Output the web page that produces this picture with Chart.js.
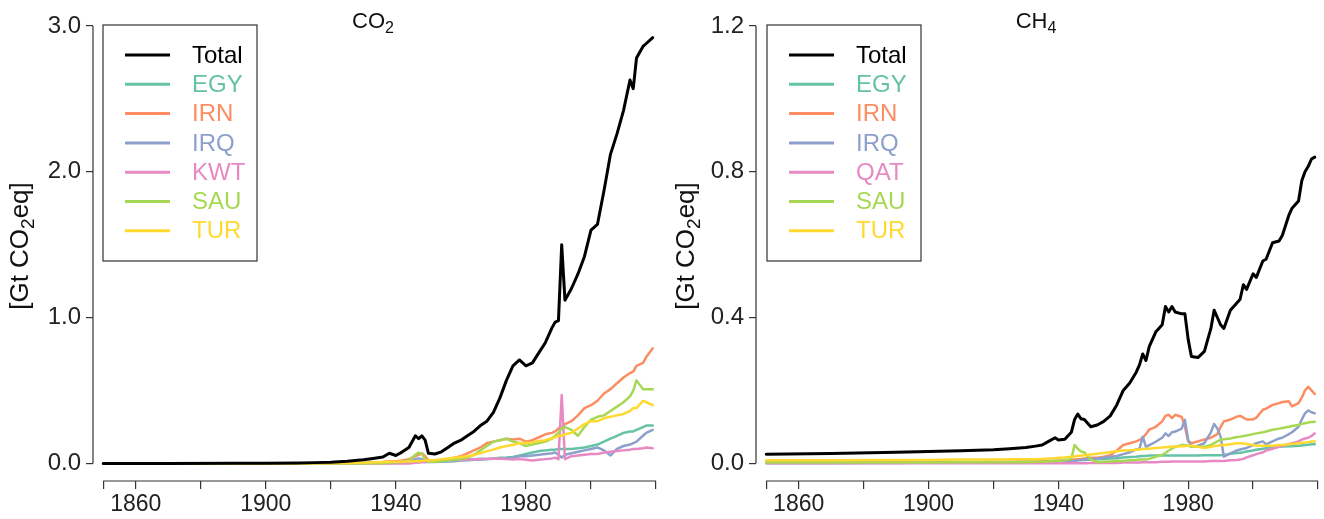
<!DOCTYPE html>
<html>
<head>
<meta charset="utf-8">
<script src="https://cdn.jsdelivr.net/npm/chart.js@4.4.1/dist/chart.umd.min.js"></script>
<style>
  html, body { margin: 0; padding: 0; background: #fff; }
  #wrap { position: relative; width: 1324px; height: 519px; }
  .panel { position: absolute; top: 0; width: 662px; height: 519px; }
</style>
</head>
<body>
<div id="wrap">
  <div class="panel" style="left:0"><canvas id="co2Chart" width="662" height="519"></canvas></div>
  <div class="panel" style="left:662px"><canvas id="ch4Chart" width="662" height="519"></canvas></div>
</div>
<script>
// axis ticks
const xTickYears = [1850, 1860, 1880, 1900, 1920, 1940, 1960, 1980, 2000, 2020];
const xLabelYears = [1860, 1900, 1940, 1980];
const co2TickValues = [0, 1, 2, 3];
const ch4TickValues = [0, 0.4, 0.8, 1.2];

// CO2 panel [Gt CO2eq]
const co2Years = [
  1850, 1870, 1890, 1900, 1910, 1915, 1920, 1925, 1930, 1933,
  1936, 1938, 1940, 1942, 1944, 1946, 1947, 1948, 1949, 1950,
  1952, 1954, 1956, 1958, 1960, 1962, 1964, 1966, 1968, 1970,
  1972, 1974, 1976, 1978, 1980, 1982, 1984, 1986, 1988, 1989,
  1990, 1991, 1992, 1994, 1996, 1998, 2000, 2002, 2004, 2006,
  2008, 2010, 2012, 2013, 2014, 2016, 2017, 2019
];
const co2Total = [
  0.000, 0.000, 0.001, 0.002, 0.004, 0.006, 0.008, 0.015, 0.025, 0.035,
  0.045, 0.070, 0.055, 0.080, 0.110, 0.190, 0.170, 0.190, 0.160, 0.070,
  0.065, 0.080, 0.110, 0.140, 0.160, 0.190, 0.220, 0.260, 0.290, 0.350,
  0.450, 0.570, 0.670, 0.710, 0.670, 0.690, 0.760, 0.830, 0.930, 0.970,
  0.980, 1.500, 1.120, 1.200, 1.300, 1.420, 1.600, 1.640, 1.870, 2.120,
  2.260, 2.420, 2.630, 2.570, 2.780, 2.860, 2.880, 2.920
];
const co2EGY = [
  0, 0, 0, 0, 0, 0.001, 0.001, 0.002, 0.004, 0.005,
  0.006, 0.007, 0.008, 0.008, 0.009, 0.010, 0.010, 0.011, 0.011, 0.012,
  0.014, 0.016, 0.018, 0.020, 0.025, 0.028, 0.030, 0.033, 0.030, 0.035,
  0.040, 0.042, 0.045, 0.055, 0.065, 0.075, 0.085, 0.090, 0.095, 0.095,
  0.100, 0.100, 0.100, 0.100, 0.105, 0.110, 0.120, 0.130, 0.150, 0.170,
  0.190, 0.210, 0.220, 0.220, 0.230, 0.250, 0.260, 0.260
];
const co2IRN = [
  0, 0, 0, 0, 0, 0, 0.001, 0.002, 0.003, 0.005,
  0.010, 0.015, 0.015, 0.020, 0.030, 0.050, 0.060, 0.070, 0.050, 0.020,
  0.020, 0.025, 0.030, 0.040, 0.050, 0.070, 0.090, 0.110, 0.140, 0.150,
  0.160, 0.170, 0.165, 0.170, 0.150, 0.160, 0.180, 0.200, 0.210, 0.220,
  0.240, 0.250, 0.270, 0.290, 0.330, 0.380, 0.400, 0.430, 0.480, 0.510,
  0.550, 0.590, 0.620, 0.630, 0.670, 0.690, 0.730, 0.790
];
const co2IRQ = [
  0, 0, 0, 0, 0, 0, 0, 0, 0.002, 0.003,
  0.004, 0.004, 0.005, 0.007, 0.010, 0.030, 0.035, 0.030, 0.020, 0.010,
  0.010, 0.012, 0.014, 0.015, 0.020, 0.022, 0.025, 0.028, 0.030, 0.032,
  0.033, 0.035, 0.040, 0.050, 0.050, 0.055, 0.060, 0.065, 0.070, 0.075,
  0.060, 0.040, 0.060, 0.070, 0.080, 0.090, 0.100, 0.110, 0.090, 0.055,
  0.100, 0.120, 0.130, 0.140, 0.150, 0.190, 0.210, 0.230
];
const co2KWT = [
  0, 0, 0, 0, 0, 0, 0, 0, 0, 0,
  0, 0, 0, 0, 0, 0.005, 0.007, 0.010, 0.011, 0.012,
  0.015, 0.020, 0.022, 0.025, 0.025, 0.028, 0.030, 0.030, 0.032, 0.033,
  0.034, 0.030, 0.028, 0.030, 0.025, 0.020, 0.025, 0.030, 0.035, 0.040,
  0.030, 0.470, 0.030, 0.050, 0.055, 0.060, 0.065, 0.065, 0.075, 0.080,
  0.085, 0.090, 0.095, 0.100, 0.100, 0.105, 0.110, 0.105
];
const co2SAU = [
  0, 0, 0, 0, 0, 0, 0, 0, 0, 0.001,
  0.002, 0.005, 0.008, 0.010, 0.020, 0.060, 0.075, 0.065, 0.030, 0.012,
  0.012, 0.015, 0.020, 0.025, 0.030, 0.040, 0.060, 0.090, 0.120, 0.150,
  0.160, 0.170, 0.150, 0.140, 0.120, 0.130, 0.140, 0.150, 0.170, 0.190,
  0.210, 0.240, 0.250, 0.230, 0.190, 0.250, 0.300, 0.320, 0.330, 0.360,
  0.390, 0.420, 0.460, 0.500, 0.570, 0.510, 0.510, 0.510
];
const co2TUR = [
  0, 0, 0, 0, 0, 0.001, 0.002, 0.004, 0.006, 0.008,
  0.010, 0.012, 0.012, 0.012, 0.013, 0.015, 0.016, 0.018, 0.020, 0.020,
  0.024, 0.030, 0.035, 0.040, 0.045, 0.050, 0.060, 0.070, 0.085, 0.095,
  0.110, 0.120, 0.127, 0.140, 0.140, 0.145, 0.155, 0.160, 0.175, 0.180,
  0.190, 0.190, 0.200, 0.210, 0.240, 0.270, 0.290, 0.290, 0.310, 0.320,
  0.330, 0.340, 0.360, 0.380, 0.380, 0.430, 0.420, 0.400
];

// CH4 panel [Gt CO2eq]
const ch4Years = [
  1850, 1870, 1890, 1900, 1910, 1920, 1925, 1930, 1933, 1935,
  1937, 1939, 1940, 1942, 1944, 1945, 1946, 1947, 1948, 1950,
  1952, 1954, 1956, 1958, 1960, 1962, 1964, 1965, 1966, 1967,
  1968, 1970, 1972, 1973, 1974, 1975, 1976, 1978, 1979, 1980,
  1981, 1983, 1985, 1987, 1988, 1989, 1990, 1991, 1993, 1995,
  1996, 1997, 1998, 2000, 2001, 2003, 2004, 2006, 2008, 2009,
  2011, 2012, 2014, 2015, 2016, 2017, 2018, 2019
];
const ch4Total = [
  0.025, 0.027, 0.030, 0.032, 0.034, 0.037, 0.040, 0.043, 0.047, 0.050,
  0.060, 0.070, 0.064, 0.066, 0.085, 0.120, 0.135, 0.122, 0.120, 0.100,
  0.105, 0.115, 0.130, 0.160, 0.200, 0.220, 0.250, 0.270, 0.300, 0.282,
  0.320, 0.360, 0.380, 0.430, 0.415, 0.430, 0.415, 0.410, 0.410, 0.340,
  0.293, 0.290, 0.307, 0.370, 0.420, 0.400, 0.380, 0.370, 0.420, 0.440,
  0.450, 0.490, 0.477, 0.520, 0.510, 0.555, 0.560, 0.605, 0.610, 0.625,
  0.680, 0.700, 0.720, 0.775, 0.800, 0.815, 0.835, 0.840
];
const ch4EGY = [
  0.001, 0.001, 0.002, 0.002, 0.002, 0.003, 0.003, 0.004, 0.004, 0.005,
  0.005, 0.006, 0.006, 0.007, 0.008, 0.008, 0.009, 0.009, 0.009, 0.010,
  0.011, 0.012, 0.013, 0.014, 0.016, 0.017, 0.018, 0.019, 0.020, 0.020,
  0.021, 0.021, 0.021, 0.021, 0.021, 0.021, 0.021, 0.021, 0.021, 0.021,
  0.021, 0.021, 0.022, 0.022, 0.022, 0.022, 0.022, 0.023, 0.026, 0.028,
  0.029, 0.030, 0.032, 0.035, 0.037, 0.040, 0.041, 0.043, 0.045, 0.046,
  0.047, 0.047, 0.048, 0.049, 0.050, 0.051, 0.052, 0.052
];
const ch4IRN = [
  0.002, 0.002, 0.003, 0.003, 0.003, 0.004, 0.004, 0.005, 0.005, 0.006,
  0.006, 0.007, 0.007, 0.008, 0.009, 0.010, 0.011, 0.012, 0.013, 0.015,
  0.015, 0.018, 0.022, 0.035, 0.050, 0.055, 0.060, 0.064, 0.070, 0.080,
  0.092, 0.100, 0.115, 0.130, 0.133, 0.124, 0.133, 0.127, 0.100, 0.060,
  0.055, 0.060, 0.065, 0.070, 0.075, 0.080, 0.100, 0.115, 0.120, 0.128,
  0.130, 0.125, 0.120, 0.120, 0.125, 0.147, 0.150, 0.160, 0.165, 0.168,
  0.170, 0.156, 0.165, 0.180, 0.200, 0.210, 0.200, 0.190
];
const ch4IRQ = [
  0.001, 0.001, 0.001, 0.002, 0.002, 0.002, 0.002, 0.003, 0.003, 0.003,
  0.003, 0.004, 0.004, 0.004, 0.005, 0.006, 0.008, 0.009, 0.010, 0.012,
  0.013, 0.015, 0.018, 0.020, 0.025, 0.030, 0.038, 0.040, 0.073, 0.045,
  0.050, 0.059, 0.070, 0.082, 0.075, 0.085, 0.087, 0.095, 0.119, 0.064,
  0.045, 0.048, 0.055, 0.085, 0.108, 0.095, 0.073, 0.018, 0.027, 0.035,
  0.038, 0.040, 0.042, 0.050, 0.055, 0.060, 0.052, 0.060, 0.068, 0.070,
  0.080, 0.085, 0.100, 0.120, 0.137, 0.145, 0.140, 0.137
];
const ch4QAT = [
  0, 0, 0, 0, 0, 0, 0, 0, 0, 0,
  0, 0, 0, 0, 0, 0, 0, 0, 0, 0.001,
  0.001, 0.001, 0.001, 0.001, 0.002, 0.002, 0.002, 0.002, 0.003, 0.003,
  0.003, 0.003, 0.004, 0.004, 0.004, 0.005, 0.005, 0.005, 0.005, 0.005,
  0.005, 0.005, 0.005, 0.006, 0.006, 0.006, 0.006, 0.006, 0.008, 0.009,
  0.010, 0.012, 0.016, 0.022, 0.025, 0.030, 0.035, 0.040, 0.045, 0.048,
  0.053, 0.055, 0.060, 0.065, 0.068, 0.070, 0.075, 0.082
];
const ch4SAU = [
  0.002, 0.002, 0.002, 0.002, 0.003, 0.003, 0.003, 0.003, 0.004, 0.004,
  0.005, 0.006, 0.006, 0.008, 0.012, 0.050, 0.040, 0.032, 0.030, 0.010,
  0.003, 0.004, 0.005, 0.006, 0.006, 0.008, 0.009, 0.010, 0.010, 0.010,
  0.012, 0.018, 0.023, 0.028, 0.035, 0.040, 0.045, 0.050, 0.050, 0.048,
  0.045, 0.045, 0.045, 0.050, 0.055, 0.060, 0.065, 0.066, 0.068, 0.072,
  0.073, 0.075, 0.076, 0.080, 0.082, 0.085, 0.087, 0.092, 0.095, 0.097,
  0.100, 0.102, 0.105, 0.108, 0.110, 0.112, 0.113, 0.114
];
const ch4TUR = [
  0.008, 0.008, 0.009, 0.009, 0.010, 0.010, 0.011, 0.011, 0.011, 0.012,
  0.013, 0.014, 0.015, 0.016, 0.018, 0.019, 0.020, 0.021, 0.022, 0.024,
  0.026, 0.028, 0.031, 0.033, 0.035, 0.036, 0.037, 0.038, 0.039, 0.040,
  0.040, 0.042, 0.043, 0.044, 0.045, 0.045, 0.046, 0.047, 0.047, 0.048,
  0.048, 0.045, 0.042, 0.045, 0.047, 0.048, 0.050, 0.050, 0.052, 0.055,
  0.055, 0.054, 0.053, 0.050, 0.049, 0.048, 0.048, 0.048, 0.050, 0.050,
  0.052, 0.053, 0.055, 0.056, 0.057, 0.058, 0.060, 0.060
];

const colors = {
  Total: "#000000",
  EGY: "#66C2A5",
  IRN: "#FC8D62",
  IRQ: "#8DA0CB",
  KWT: "#E78AC3",
  QAT: "#E78AC3",
  SAU: "#A6D854",
  TUR: "#FFD92F"
};

const FONT = "'Liberation Sans', Arial, Helvetica, sans-serif";
Chart.defaults.font.family = FONT;

// draw text where some parts are subscripts
function drawRich(ctx, parts, x, y, size) {
  const subSize = Math.round(size * 0.72);
  let w = 0;
  parts.forEach(p => {
    ctx.font = (p[1] ? subSize : size) + "px " + FONT;
    w += ctx.measureText(p[0]).width;
  });
  let cx = x - w / 2;
  ctx.textAlign = "left";
  ctx.textBaseline = "alphabetic";
  parts.forEach(p => {
    ctx.font = (p[1] ? subSize : size) + "px " + FONT;
    ctx.fillText(p[0], cx, p[1] ? y + size * 0.22 : y);
    cx += ctx.measureText(p[0]).width;
  });
}

const framePlugin = {
  id: "frame",
  afterDraw(chart, args, opts) {
    const ctx = chart.ctx;
    const area = chart.chartArea;
    const xs = chart.scales.x, ys = chart.scales.y;
    ctx.save();

    // detached axis lines
    ctx.strokeStyle = "#333";
    ctx.lineWidth = 1.2;
    ctx.beginPath();
    ctx.moveTo(xs.getPixelForValue(xTickYears[0]), area.bottom);
    ctx.lineTo(xs.getPixelForValue(xTickYears[xTickYears.length - 1]), area.bottom);
    ctx.moveTo(area.left, ys.getPixelForValue(opts.yTicks[0]));
    ctx.lineTo(area.left, ys.getPixelForValue(opts.yTicks[opts.yTicks.length - 1]));
    ctx.stroke();

    // title
    ctx.fillStyle = "#111";
    drawRich(ctx, opts.title, opts.titleX, 28, 22);

    // y axis label
    ctx.save();
    ctx.translate(opts.yLabelX, 246);
    ctx.rotate(-Math.PI / 2);
    drawRich(ctx, [["[Gt CO", false], ["2", true], ["eq]", false]], 0, 8, 26);
    ctx.restore();

    // legend box
    const L = area.left + opts.legendDx;
    ctx.strokeStyle = "#333";
    ctx.lineWidth = 1.2;
    ctx.strokeRect(L, 25, 154, 236);
    ctx.font = "24px " + FONT;
    ctx.textBaseline = "middle";
    ctx.textAlign = "left";
    chart.data.datasets.forEach((ds, i) => {
      const yy = 55 + i * 29.3;
      ctx.strokeStyle = ds.borderColor;
      ctx.lineWidth = 3;
      ctx.beginPath();
      ctx.moveTo(L + 22, yy);
      ctx.lineTo(L + 67, yy);
      ctx.stroke();
      ctx.fillStyle = ds.borderColor;
      ctx.fillText(ds.label, L + 89, yy + 1);
    });
    ctx.restore();
  }
};

function makeDatasets(years, series) {
  return series.map((s, i) => ({
    label: s.name,
    data: years.map((yr, j) => ({ x: yr, y: s.values[j] })),
    borderColor: colors[s.name],
    backgroundColor: colors[s.name],
    borderWidth: s.name === "Total" ? 3 : 2.5,
    pointRadius: 0,
    tension: 0,
    borderJoinStyle: "round",
    borderCapStyle: "round",
    order: i === 0 ? 0 : series.length - i
  }));
}

function makeChart(id, years, series, yMin, yMax, yTicks, yWidth, frameOpts) {
  return new Chart(document.getElementById(id), {
    type: "line",
    data: { datasets: makeDatasets(years, series) },
    plugins: [framePlugin],
    options: {
      responsive: false,
      animation: false,
      layout: { padding: { top: 26, right: 6, left: 0, bottom: 0 } },
      plugins: {
        legend: { display: false },
        tooltip: { enabled: false },
        frame: Object.assign({ yTicks: yTicks }, frameOpts)
      },
      scales: {
        x: {
          type: "linear",
          min: 1846.85,
          max: 2020,
          bounds: "data",
          afterBuildTicks: s => { s.ticks = xTickYears.map(v => ({ value: v })); },
          afterFit: s => { s.height = 38; },
          ticks: {
            autoSkip: false,
            maxRotation: 0,
            padding: 2,
            color: "#222",
            font: { size: 23 },
            callback: v => xLabelYears.includes(v) ? String(v) : ""
          },
          grid: { drawOnChartArea: false, tickLength: 8, color: "#333", lineWidth: 1.2 },
          border: { display: false }
        },
        y: {
          type: "linear",
          min: yMin,
          max: yMax,
          bounds: "data",
          afterBuildTicks: s => { s.ticks = yTicks.map(v => ({ value: v })); },
          afterFit: s => { s.width = yWidth; },
          ticks: {
            padding: 5,
            color: "#222",
            font: { size: 24 },
            callback: v => Number(v).toFixed(1)
          },
          grid: { drawOnChartArea: false, tickLength: 7, color: "#333", lineWidth: 1.2 },
          border: { display: false }
        }
      }
    }
  });
}

makeChart("co2Chart", co2Years, [
  { name: "Total", values: co2Total },
  { name: "EGY", values: co2EGY },
  { name: "IRN", values: co2IRN },
  { name: "IRQ", values: co2IRQ },
  { name: "KWT", values: co2KWT },
  { name: "SAU", values: co2SAU },
  { name: "TUR", values: co2TUR }
], -0.12, 3.0, co2TickValues, 93, {
  title: [["CO", false], ["2", true]],
  titleX: 373,
  yLabelX: 20,
  legendDx: 10
});

makeChart("ch4Chart", ch4Years, [
  { name: "Total", values: ch4Total },
  { name: "EGY", values: ch4EGY },
  { name: "IRN", values: ch4IRN },
  { name: "IRQ", values: ch4IRQ },
  { name: "QAT", values: ch4QAT },
  { name: "SAU", values: ch4SAU },
  { name: "TUR", values: ch4TUR }
], -0.0487, 1.2, ch4TickValues, 94, {
  title: [["CH", false], ["4", true]],
  titleX: 374,
  yLabelX: 24,
  legendDx: 11
});
</script>
</body>
</html>
